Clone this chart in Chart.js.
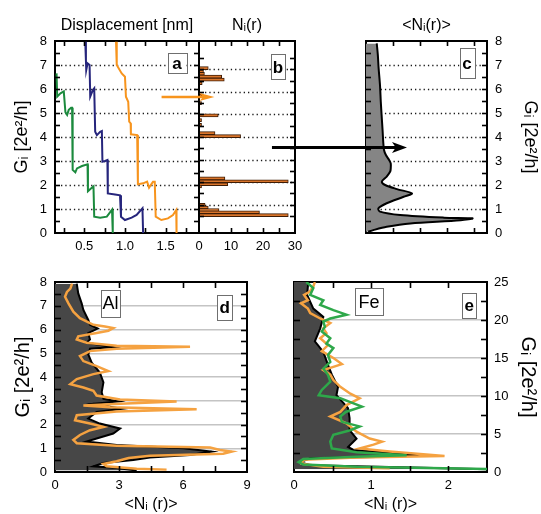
<!DOCTYPE html>
<html>
<head>
<meta charset="utf-8">
<script src="https://cdn.jsdelivr.net/npm/chart.js@4.4.0/dist/chart.umd.min.js"></script>
<style>
  html, body { margin: 0; padding: 0; background: #fff; }
  #wrap { position: relative; width: 541px; height: 514px; overflow: hidden; }
  #wrap canvas { position: absolute; left: 0; top: 0; }
</style>
</head>
<body>
<div id="wrap">
  <canvas id="panelC" width="541" height="514"></canvas>
  <canvas id="panelD" width="541" height="514"></canvas>
  <canvas id="panelE" width="541" height="514"></canvas>
  <canvas id="panelB" width="541" height="514"></canvas>
  <canvas id="panelA" width="541" height="514"></canvas>
</div>
<script>
// ---- data ----

// a: single-trace conductance vs displacement
const greenDisp = [0.159, 0.167, 0.207, 0.248, 0.268, 0.289, 0.309, 0.338, 0.35, 0.357, 0.39, 0.41, 0.472, 0.54, 0.545, 0.582, 0.613, 0.622, 0.695, 0.777, 0.841, 0.85];
const greenG    = [6.65, 5.68, 5.82, 5.9, 5.03, 4.92, 5.13, 5.22, 5.22, 2.63, 2.53, 2.69, 2.79, 2.86, 1.74, 1.85, 1.94, 0.68, 0.64, 0.68, 0.97, 0];
const blueDisp  = [0.512, 0.52, 0.524, 0.54, 0.565, 0.573, 0.606, 0.622, 0.634, 0.655, 0.695, 0.716, 0.723, 0.756, 0.784, 0.789, 0.878, 0.939, 0.951, 1.0, 1.082, 1.143, 1.215, 1.223];
const blueG     = [7.97, 7.2, 6.79, 7.07, 7.0, 5.68, 5.96, 6.03, 4.22, 4.08, 4.22, 4.25, 2.97, 3.0, 3.04, 1.65, 1.6, 1.57, 0.68, 0.54, 0.64, 0.75, 1.03, 0];
const orangeDisp = [0.89, 0.899, 0.96, 1.0, 1.012, 1.04, 1.052, 1.07, 1.073, 1.15, 1.159, 1.223, 1.272, 1.296, 1.345, 1.366, 1.378, 1.447, 1.528, 1.59, 1.63, 1.634];
const orangeG    = [7.97, 7.0, 6.65, 6.51, 5.68, 5.47, 4.64, 4.57, 4.11, 4.08, 2.03, 2.07, 2.14, 1.89, 2.14, 2.14, 0.68, 0.54, 0.61, 0.75, 0.96, 0];

// b: plateau histogram of the orange trace
const plateauG     = [7.05, 6.9, 6.8, 6.67, 6.54, 6.38, 5.84, 5.5, 4.96, 4.75, 4.54, 4.17, 4.04, 2.17, 2.04, 1.91, 1.81, 1.0, 0.88, 0.77, 0.67, 0.54];
const plateauCount = [2.9, 1.4, 1.7, 7.1, 7.9, 1.0, 1.0, 0.8, 6.0, 0.8, 0.8, 5.0, 13.0, 8.1, 27.9, 9.0, 0.8, 1.9, 2.9, 6.25, 18.9, 27.9];

// c: averaged histogram
const avgN = [0.4, 0.44, 0.47, 0.52, 0.55, 0.58, 0.62, 0.64, 0.67, 0.74, 0.86, 0.92, 0.92, 0.9, 0.77, 0.59, 0.71, 1.15, 1.71, 1.4, 0.77, 0.46, 0.52, 1.27, 2.9, 3.96, 3.52, 1.65, 0.77, 0.27, 0.08];
const avgG = [7.9, 7.42, 6.86, 6.17, 5.47, 4.92, 4.22, 3.81, 3.46, 3.25, 3.04, 2.9, 2.69, 2.56, 2.35, 2.14, 2.0, 1.83, 1.65, 1.51, 1.24, 1.03, 0.89, 0.75, 0.64, 0.61, 0.53, 0.4, 0.26, 0.12, 0.05];

// d: Al
const alAvgN = [1.02, 1.09, 1.25, 1.33, 1.56, 1.64, 2.0, 1.56, 1.64, 1.48, 2.73, 1.64, 1.56, 1.72, 2.1, 2.27, 2.19, 2.27, 2.97, 1.8, 3.13, 1.95, 1.56, 2.1, 3.05, 2.73, 1.95, 1.48, 2.89, 6.02, 7.34, 6.33, 4.45, 3.67, 2.27, 1.8, 2.89, 3.83];
const alAvgG = [7.93, 7.52, 7.1, 6.82, 6.4, 6.2, 6.04, 5.85, 5.58, 5.44, 5.26, 5.19, 4.95, 4.6, 4.19, 3.77, 3.36, 3.08, 2.97, 2.87, 2.66, 2.53, 2.25, 2.04, 1.83, 1.62, 1.41, 1.28, 1.14, 1.0, 0.86, 0.72, 0.61, 0.51, 0.38, 0.24, 0.17, 0.06];
const alSetN = [0.8, 0.72, 0.56, 0.47, 0.63, 0.86, 1.17, 1.8, 2.34, 2.73, 2.5, 1.95, 1.09, 1.02, 1.48, 2.89, 6.33, 2.89, 1.64, 1.17, 1.33, 1.95, 2.5, 1.8, 1.02, 0.72, 1.33, 1.8, 1.95, 3.05, 5.7, 3.05, 1.33, 2.58, 6.64, 2.89, 1.02, 0.94, 1.64, 2.27, 1.64, 1.17, 0.86, 1.02, 2.89, 7.27, 7.73, 8.28, 7.88, 4.45, 3.45, 2.89, 2.27, 2.42, 3.83, 5.23];
const alSetG = [7.93, 7.72, 7.58, 7.38, 7.1, 6.75, 6.48, 6.2, 6.13, 6.06, 5.95, 5.85, 5.71, 5.58, 5.44, 5.32, 5.27, 5.19, 5.09, 4.88, 4.67, 4.46, 4.25, 4.12, 3.91, 3.7, 3.56, 3.42, 3.22, 3.05, 2.97, 2.87, 2.8, 2.73, 2.64, 2.55, 2.39, 2.18, 2.04, 1.9, 1.76, 1.56, 1.35, 1.21, 1.11, 1.03, 0.93, 0.86, 0.77, 0.68, 0.59, 0.45, 0.34, 0.24, 0.14, 0.1];

// e: Fe
const feAvgN = [0.185, 0.17, 0.25, 0.38, 0.34, 0.27, 0.38, 0.44, 0.49, 0.57, 0.55, 0.7, 0.72, 0.72, 0.81, 0.7, 0.77, 1.68, 1.24, 0.21, 0.08, 0.21, 1.68, 2.54];
const feAvgG = [25.0, 23.3, 21.5, 20.4, 18.9, 17.2, 15.8, 14.1, 12.8, 11.2, 10.1, 8.4, 7.1, 5.5, 4.4, 3.3, 2.9, 2.2, 2.0, 1.8, 1.3, 0.9, 0.57, 0.35];
const feSet1N = [0.27, 0.25, 0.2, 0.13, 0.18, 0.09, 0.18, 0.21, 0.34, 0.47, 0.38, 0.42, 0.34, 0.44, 0.36, 0.51, 0.62, 0.38, 0.47, 0.51, 0.6, 0.73, 0.85, 0.68, 0.6, 0.47, 0.68, 0.81, 0.98, 1.14, 1.03, 0.85, 1.24, 1.95, 0.81, 0.12, 0.1, 0.38, 1.24];
const feSet1G = [25.0, 24.4, 23.7, 23.3, 22.6, 22.2, 21.5, 20.9, 20.2, 19.6, 18.9, 18.3, 17.6, 16.7, 15.9, 15.0, 14.2, 13.4, 12.8, 12.1, 11.2, 10.3, 9.7, 8.8, 7.9, 7.3, 6.4, 5.3, 4.4, 4.0, 3.6, 3.1, 2.7, 2.1, 1.9, 1.6, 1.1, 0.7, 0.48];
const feSet2N = [0.16, 0.25, 0.21, 0.38, 0.34, 0.51, 0.68, 0.47, 0.38, 0.4, 0.36, 0.47, 0.42, 0.51, 0.44, 0.47, 0.38, 0.44, 0.47, 0.36, 0.32, 0.6, 0.73, 0.88, 0.67, 0.6, 0.62, 0.85, 0.73, 0.51, 0.47, 0.49, 0.81, 1.46, 0.81, 0.12, 0.06, 0.12, 0.81, 2.54];
const feSet2G = [25.0, 24.2, 23.3, 22.6, 22.0, 21.3, 20.7, 20.2, 19.8, 19.1, 18.5, 17.6, 16.9, 16.3, 15.4, 14.5, 13.6, 12.8, 11.9, 10.8, 10.1, 9.7, 9.2, 8.6, 7.9, 7.3, 6.6, 6.0, 5.5, 4.9, 4.0, 3.1, 2.6, 2.2, 2.0, 1.7, 1.3, 1.0, 0.7, 0.4];

// ---- helpers ----
const FONT = "'Liberation Sans', Arial, Helvetica, sans-serif";
Chart.defaults.font.family = FONT;
Chart.defaults.font.size = 13;
Chart.defaults.color = '#000';
Chart.defaults.animation = false;
Chart.defaults.plugins.legend.display = false;
Chart.defaults.plugins.tooltip.enabled = false;

const pts = (xs, ys) => xs.map((v, i) => ({ x: v, y: ys[i] }));
const isMult = (v, m) => Math.abs(v / m - Math.round(v / m)) < 1e-6;

// grid colour only on multiples of `every`, strictly inside the range
function gridAt(lo, hi, every, col) {
  return c => {
    const v = c.tick ? c.tick.value : NaN;
    return (v > lo + 1e-6 && v < hi - 1e-6 && isMult(v, every)) ? col : 'rgba(0,0,0,0)';
  };
}

function axis(position, min, max, step, o) {
  o = o || {};
  const size = o.size || 0;
  return {
    type: 'linear',
    position: position,
    min: min,
    max: max,
    afterFit: s => { if (s.isHorizontal()) s.height = size; else s.width = size; },
    border: { display: true, color: '#000', width: 2 },
    grid: {
      drawOnChartArea: !!o.grid,
      drawTicks: false,
      color: o.grid || 'rgba(0,0,0,0)',
      lineWidth: o.gridWidth || 1
    },
    ticks: {
      stepSize: step,
      includeBounds: false,
      autoSkip: false,
      maxRotation: 0,
      display: !!o.labels,
      padding: o.pad != null ? o.pad : 8,
      callback: o.labels || (() => ''),
      font: { size: 13 }
    },
    title: o.title
      ? { display: true, text: o.title, font: { size: o.titleSize || 16 }, padding: { top: o.titlePad || 0, bottom: 0 } }
      : { display: false }
  };
}

// area = plot box in page pixels, sz = fixed axis sizes
function pad(area, sz) {
  return {
    left: area.l - sz.left,
    right: 541 - area.r - sz.right,
    top: area.t - sz.top,
    bottom: 514 - area.b - sz.bottom
  };
}

// dotted horizontal grid + inward tick marks on every side, from the scales' own ticks
const framePlugin = {
  id: 'frame',
  beforeDatasetsDraw(chart, args, opts) {
    if (!opts.dotEvery) return;
    const ctx = chart.ctx, a = chart.chartArea, ys = chart.scales.y;
    ctx.save();
    ctx.strokeStyle = '#1a1a1a';
    ctx.lineWidth = 1.3;
    ctx.setLineDash([1.3, 3]);
    ys.ticks.forEach(t => {
      if (t.value > ys.min && t.value < ys.max && isMult(t.value, opts.dotEvery)) {
        const py = Math.round(ys.getPixelForValue(t.value)) + 0.5;
        ctx.beginPath();
        ctx.moveTo(a.left + 6, py);
        ctx.lineTo(a.right - 3, py);
        ctx.stroke();
      }
    });
    ctx.restore();
  },
  afterDatasetsDraw(chart, args, opts) {
    const ctx = chart.ctx, a = chart.chartArea, len = opts.len || 5;
    ctx.save();
    ctx.strokeStyle = '#000';
    ctx.lineWidth = 1.6;
    Object.values(chart.scales).forEach(s => {
      s.ticks.forEach(t => {
        if (t.value <= s.min + 1e-6 || t.value >= s.max - 1e-6) return;
        const p = Math.round(s.getPixelForValue(t.value)) + 0.5;
        ctx.beginPath();
        if (s.position === 'left') { ctx.moveTo(a.left, p); ctx.lineTo(a.left + len, p); }
        else if (s.position === 'right') { ctx.moveTo(a.right, p); ctx.lineTo(a.right - len, p); }
        else if (s.position === 'top') { ctx.moveTo(p, a.top); ctx.lineTo(p, a.top + len); }
        else { ctx.moveTo(p, a.bottom); ctx.lineTo(p, a.bottom - len); }
        ctx.stroke();
      });
    });
    ctx.restore();
  }
};

// small framed labels ("a", "Al", ...)
const tagPlugin = {
  id: 'tags',
  afterDatasetsDraw(chart, args, opts) {
    const ctx = chart.ctx, xs = chart.scales.x, ys = chart.scales.y;
    (opts.items || []).forEach(t => {
      const cx = xs.getPixelForValue(t.x), cy = ys.getPixelForValue(t.y);
      ctx.save();
      ctx.fillStyle = '#fff';
      ctx.strokeStyle = '#6f6f6f';
      ctx.lineWidth = 1;
      ctx.fillRect(cx - t.w / 2, cy - t.h / 2, t.w, t.h);
      ctx.strokeRect(Math.round(cx - t.w / 2) + 0.5, Math.round(cy - t.h / 2) + 0.5, t.w, t.h);
      ctx.fillStyle = '#000';
      ctx.font = (t.bold ? 'bold ' : '') + t.size + 'px ' + FONT;
      ctx.textAlign = 'center';
      ctx.textBaseline = 'middle';
      ctx.fillText(t.text, cx, cy + 1);
      ctx.restore();
    });
  }
};

// arrows, ends given in the chart's own data units
const arrowPlugin = {
  id: 'arrows',
  afterDraw(chart, args, opts) {
    const ctx = chart.ctx, xs = chart.scales.x, ys = chart.scales.y;
    (opts.items || []).forEach(a => {
      const x1 = xs.getPixelForValue(a.from[0]), y1 = ys.getPixelForValue(a.from[1]);
      const x2 = xs.getPixelForValue(a.to[0]), y2 = ys.getPixelForValue(a.to[1]);
      ctx.save();
      ctx.strokeStyle = a.color;
      ctx.fillStyle = a.color;
      ctx.lineWidth = a.width;
      ctx.beginPath();
      ctx.moveTo(x1, y1);
      ctx.lineTo(x2 - a.head * 0.7, y2);
      ctx.stroke();
      ctx.beginPath();
      ctx.moveTo(x2, y2);
      ctx.lineTo(x2 - a.head, y2 - a.half);
      ctx.lineTo(x2 - a.head * 0.75, y2);
      ctx.lineTo(x2 - a.head, y2 + a.half);
      ctx.closePath();
      ctx.fill();
      ctx.restore();
    });
  }
};

const lineDs = (data, color, width, extra) => Object.assign({
  data: data,
  borderColor: color,
  borderWidth: width,
  pointRadius: 0,
  tension: 0,
  fill: false
}, extra || {});

// ---- panel a ----
const areaA = { l: 55, t: 41, r: 199, b: 233 };
const szA = { left: 55, right: 0, top: 41, bottom: 30 };
new Chart(document.getElementById('panelA'), {
  type: 'line',
  data: {
    datasets: [
      lineDs(pts(greenDisp, greenG), '#1b8a3d', 2),
      lineDs(pts(blueDisp, blueG), '#26257c', 2),
      lineDs(pts(orangeDisp, orangeG), '#f7941d', 2)
    ]
  },
  options: {
    responsive: false,
    layout: { padding: pad(areaA, szA) },
    scales: {
      x: axis('bottom', 0.14, 1.91, 0.25, { size: szA.bottom, pad: 6, labels: v => isMult(v, 0.5) ? v.toFixed(1) : '' }),
      xTop: axis('top', 0.14, 1.91, 0.25, { size: szA.top, title: 'Displacement [nm]', titleSize: 16, titlePad: 16 }),
      y: axis('left', 0, 8, 0.5, { size: szA.left, labels: v => Number.isInteger(v) ? v : '',
        title: 'G\u1d62 [2e\u00b2/h]', titleSize: 18, titlePad: 11 }),
      yRight: axis('right', 0, 8, 0.5, { size: szA.right })
    },
    plugins: {
      frame: { dotEvery: 1 },
      tags: { items: [{ text: 'a', x: 1.64, y: 7.08, w: 19, h: 20, size: 17, bold: true }] },
      arrows: { items: [{ from: [1.45, 5.67], to: [2.1, 5.67], color: '#f7941d', width: 2.5, head: 15, half: 4 }] }
    }
  },
  plugins: [framePlugin, tagPlugin, arrowPlugin]
});

// ---- panel b ----
const areaB = { l: 199, t: 41, r: 295, b: 233 };
const szB = { left: 0, right: 0, top: 41, bottom: 30 };
new Chart(document.getElementById('panelB'), {
  type: 'bar',
  data: {
    datasets: [{
      data: pts(plateauCount, plateauG),
      backgroundColor: '#d9752b',
      borderColor: '#3f1d06',
      borderWidth: 1,
      barThickness: 3
    }]
  },
  options: {
    responsive: false,
    indexAxis: 'y',
    layout: { padding: pad(areaB, szB) },
    scales: {
      x: axis('bottom', 0, 30, 5, { size: szB.bottom, pad: 6, labels: v => isMult(v, 10) ? v : '' }),
      xTop: axis('top', 0, 30, 5, { size: szB.top, title: 'N\u1d62(r)', titleSize: 16, titlePad: 16 }),
      y: axis('left', 0, 8, 0.5, { size: szB.left }),
      yRight: axis('right', 0, 8, 0.5, { size: szB.right })
    },
    plugins: {
      frame: { dotEvery: 1 },
      tags: { items: [{ text: 'b', x: 24.7, y: 7.1, w: 14, h: 25, size: 17, bold: true }] },
      arrows: { items: [{ from: [22.8, 3.54], to: [65, 3.54], color: '#000', width: 3, head: 15, half: 5.5 }] }
    }
  },
  plugins: [framePlugin, tagPlugin, arrowPlugin]
});

// ---- panel c ----
const areaC = { l: 366, t: 41, r: 487, b: 233 };
const szC = { left: 0, right: 54, top: 41, bottom: 0 };
new Chart(document.getElementById('panelC'), {
  type: 'line',
  data: {
    datasets: [lineDs(pts(avgN, avgG), '#000', 2, { fill: 'origin', backgroundColor: '#858585', tension: 0.3, indexAxis: 'y' })]
  },
  options: {
    responsive: false,
    layout: { padding: pad(areaC, szC) },
    scales: {
      x: axis('bottom', 0, 4.5, 1, { size: szC.bottom }),
      xTop: axis('top', 0, 4.5, 1, { size: szC.top, title: '<N\u1d62(r)>', titleSize: 16, titlePad: 16 }),
      y: axis('left', 0, 8, 0.5, { size: szC.left }),
      yRight: axis('right', 0, 8, 0.5, { size: szC.right, labels: v => Number.isInteger(v) ? v : '',
        title: 'G\u1d62 [2e\u00b2/h]', titleSize: 18, titlePad: 0 })
    },
    plugins: {
      frame: { dotEvery: 1 },
      tags: { items: [{ text: 'c', x: 3.76, y: 7.08, w: 15, h: 30, size: 17, bold: true }] }
    }
  },
  plugins: [framePlugin, tagPlugin]
});

// ---- panel d ----
const areaD = { l: 55, t: 282, r: 247, b: 472 };
const szD = { left: 55, right: 0, top: 0, bottom: 42 };
new Chart(document.getElementById('panelD'), {
  type: 'line',
  data: {
    datasets: [
      lineDs(pts(alSetN, alSetG), '#f5a241', 2.5, { indexAxis: 'y' }),
      lineDs(pts(alAvgN, alAvgG), '#000', 2, { fill: 'origin', backgroundColor: '#474747', indexAxis: 'y' })
    ]
  },
  options: {
    responsive: false,
    layout: { padding: pad(areaD, szD) },
    scales: {
      x: axis('bottom', 0, 9, 1.5, { size: szD.bottom, pad: 6, labels: v => isMult(v, 3) ? v : '',
        title: '<N\u1d62 (r)>', titleSize: 16, titlePad: 0 }),
      xTop: axis('top', 0, 9, 1.5, { size: szD.top }),
      y: axis('left', 0, 8, 0.5, { size: szD.left, grid: gridAt(0, 8, 1, '#c4c4c4'), gridWidth: 1.5,
        labels: v => Number.isInteger(v) ? v : '', title: 'G\u1d62 [2e\u00b2/h]', titleSize: 20, titlePad: 11 }),
      yRight: axis('right', 0, 8, 0.5, { size: szD.right })
    },
    plugins: {
      frame: { len: 6 },
      tags: { items: [
        { text: 'Al', x: 2.6, y: 7.1, w: 19, h: 27, size: 18 },
        { text: 'd', x: 7.95, y: 6.94, w: 15, h: 25, size: 17, bold: true }
      ] }
    }
  },
  plugins: [framePlugin, tagPlugin]
});

// ---- panel e ----
const areaE = { l: 294, t: 282, r: 487, b: 472 };
const szE = { left: 0, right: 54, top: 0, bottom: 42 };
new Chart(document.getElementById('panelE'), {
  type: 'line',
  data: {
    datasets: [
      lineDs(pts(feSet2N, feSet2G), '#2ea84a', 2.5, { indexAxis: 'y' }),
      lineDs(pts(feSet1N, feSet1G), '#f5a241', 2.5, { indexAxis: 'y' }),
      lineDs(pts(feAvgN, feAvgG), '#000', 2, { fill: 'origin', backgroundColor: '#474747', indexAxis: 'y' })
    ]
  },
  options: {
    responsive: false,
    layout: { padding: pad(areaE, szE) },
    scales: {
      x: axis('bottom', 0, 2.5, 0.5, { size: szE.bottom, pad: 6, labels: v => Number.isInteger(v) ? v : '',
        title: '<N\u1d62 (r)>', titleSize: 16, titlePad: 0 }),
      xTop: axis('top', 0, 2.5, 0.5, { size: szE.top }),
      y: axis('left', 0, 25, 2.5, { size: szE.left, grid: gridAt(0, 25, 5, '#c4c4c4'), gridWidth: 1.5 }),
      yRight: axis('right', 0, 25, 2.5, { size: szE.right, pad: 7, labels: v => isMult(v, 5) ? v : '',
        title: 'G\u1d62 [2e\u00b2/h]', titleSize: 20, titlePad: 1 })
    },
    plugins: {
      frame: { len: 6 },
      tags: { items: [
        { text: 'Fe', x: 0.97, y: 22.4, w: 28, h: 27, size: 18 },
        { text: 'e', x: 2.27, y: 21.9, w: 14, h: 25, size: 17, bold: true }
      ] }
    }
  },
  plugins: [framePlugin, tagPlugin]
});
</script>
</body>
</html>
